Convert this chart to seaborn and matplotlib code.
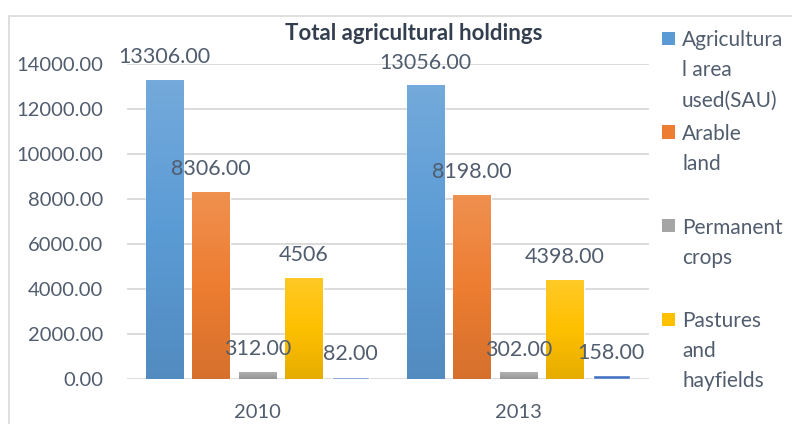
import numpy as np
import pandas as pd
import matplotlib
matplotlib.use("Agg")
import matplotlib.pyplot as plt
import seaborn as sns
from matplotlib.colors import to_rgb, LinearSegmentedColormap
from matplotlib.patches import Rectangle

# ---- data ----
years = ["2010", "2013"]
series = ["Agricultural area used(SAU)", "Arable land", "Permanent crops",
          "Pastures and hayfields", "Kitchen gardens"]
legend_labels = [["Agricultura", "l area", "used(SAU)"],
                 ["Arable", "land"],
                 ["Permanent", "crops"],
                 ["Pastures", "and", "hayfields"]]
values_2010 = [13306, 8306, 312, 4506, 82]
values_2013 = [13056, 8198, 302, 4398, 158]
labels_2010 = ["13306.00", "8306.00", "312.00", "4506", "82.00"]
labels_2013 = ["13056.00", "8198.00", "302.00", "4398.00", "158.00"]
colors = ["#5b9bd5", "#ed7d31", "#a5a5a5", "#ffc000", "#4472c4"]
yticks = [0, 2000, 4000, 6000, 8000, 10000, 12000, 14000]
ytick_labels = ["0.00", "2000.00", "4000.00", "6000.00", "8000.00",
                "10000.00", "12000.00", "14000.00"]
title = "Total agricultural holdings"

rows = []
for s, v1, v2 in zip(series, values_2010, values_2013):
    rows.append({"Year": "2010", "Series": s, "Value": v1})
    rows.append({"Year": "2013", "Series": s, "Value": v2})
df = pd.DataFrame(rows)
label_map = {("2010", s): l for s, l in zip(series, labels_2010)}
label_map.update({("2013", s): l for s, l in zip(series, labels_2013)})

# ---- style ----
sns.set_theme(style="white")
plt.rcParams["font.family"] = ["Lato", "DejaVu Sans"]
TXT = "#515d6e"

W, H = 792, 424
fig = plt.figure(figsize=(W / 100, H / 100), dpi=100)


def fx(px):
    return px / W


def fy(py):
    return 1 - py / H


ax = fig.add_axes([fx(127), fy(379), fx(649) - fx(127), fy(64) - fy(379)])

sns.barplot(data=df, x="Year", y="Value", hue="Series", order=years,
            hue_order=series, palette=colors, saturation=1, width=0.89,
            gap=0.2, legend=False, ax=ax, errorbar=None)

ax.set_ylim(0, 14000)
ax.set_xlim(-0.5, 1.5)


def shade(c, f):
    r = np.array(to_rgb(c))
    if f > 0:
        return tuple(r + (1 - r) * f)
    return tuple(r * (1 + f))


# gradient fill on each bar + data labels
for i, cont in enumerate(ax.containers):
    col = colors[i]
    cmap = LinearSegmentedColormap.from_list(
        "g%d" % i, [shade(col, 0.15), col, shade(col, -0.1)])
    for j, bar in enumerate(cont):
        x, y = bar.get_x(), bar.get_y()
        w, h = bar.get_width(), bar.get_height()
        if i < 4:
            grad = np.linspace(0, 1, 256).reshape(-1, 1)
            im = ax.imshow(grad, cmap=cmap, aspect="auto",
                           extent=[x, x + w, y, y + h], origin="upper",
                           zorder=bar.get_zorder() + 0.1)
            im.set_clip_path(bar)
        lab = label_map[(years[j], series[i])]
        ax.annotate(lab, (x + w / 2, h), xytext=(0, 12),
                    textcoords="offset points", ha="center", va="baseline",
                    fontsize=15.5, color=TXT, annotation_clip=False)

ax.set_ylim(0, 14000)
ax.set_xlim(-0.5, 1.5)

ax.set_yticks(yticks)
ax.set_yticklabels(ytick_labels)
ax.yaxis.grid(True, color="#d9d9d9", lw=1.3)
ax.set_axisbelow(True)
for sp in ax.spines.values():
    sp.set_visible(False)
ax.tick_params(axis="both", length=0, labelsize=14.5, labelcolor=TXT)
ax.tick_params(axis="y", pad=17)
ax.tick_params(axis="x", pad=18)
ax.set_xlabel("")
ax.set_ylabel("")

# title
fig.text(fx(414), fy(34), title, ha="center", va="center",
         fontsize=16, fontweight="bold", color="#333f4f")

# chart-area border
fig.add_artist(Rectangle((fx(8.5), -0.1), 1.2, fy(16.5) + 0.1,
                         transform=fig.transFigure, fill=False,
                         edgecolor="#d9d9d9", lw=1.2))

# legend (first four entries, fifth cut off as in the reference)
baselines = [46.5, 140, 233.5, 327]
for k, lines in enumerate(legend_labels):
    b = baselines[k]
    fig.add_artist(Rectangle((fx(662), fy(b - 1.5)), fx(13), fy(b - 14.5) - fy(b - 1.5),
                             transform=fig.transFigure, facecolor=colors[k],
                             edgecolor="none"))
    for m, line in enumerate(lines):
        fig.text(fx(682), fy(b + 30 * m), line, ha="left", va="baseline",
                 fontsize=15, color=TXT)

fig.savefig("out.png", dpi=100)
